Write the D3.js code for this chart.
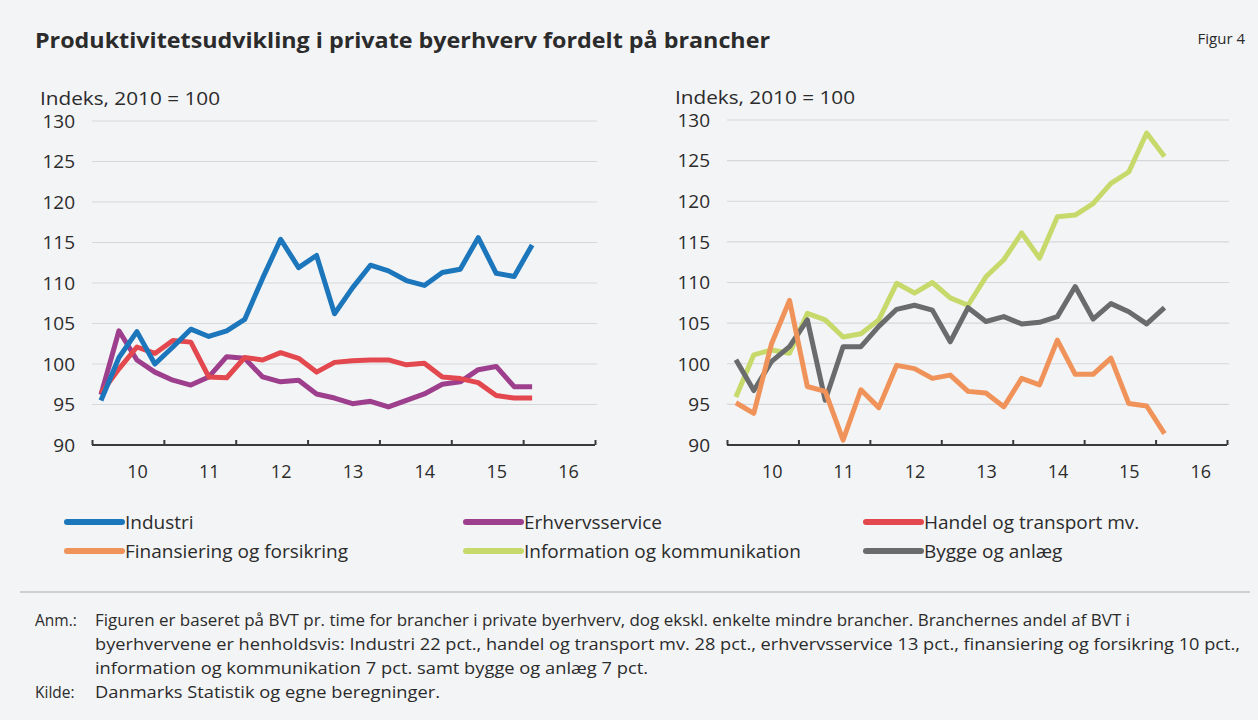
<!DOCTYPE html>
<html>
<head>
<meta charset="utf-8">
<script src="https://cdn.jsdelivr.net/npm/d3@7"></script>
<style>
  html, body { margin: 0; padding: 0; background: #f3f4f6; }
  svg { display: block; }
  text { font-family: "Open Sans", "DejaVu Sans", sans-serif; fill: #2b2b2b; }
</style>
</head>
<body>
<svg id="chart" width="1258" height="720"></svg>
<script>
// ---------- DATA ----------
const quarters = ["2010K1","2010K2","2010K3","2010K4","2011K1","2011K2","2011K3","2011K4",
  "2012K1","2012K2","2012K3","2012K4","2013K1","2013K2","2013K3","2013K4",
  "2014K1","2014K2","2014K3","2014K4","2015K1","2015K2","2015K3","2015K4","2016K1"];

const industri = [95.5,100.8,104.0,100.0,102.1,104.3,103.4,104.1,105.5,110.6,115.4,111.9,113.4,
  106.2,109.4,112.2,111.5,110.3,109.7,111.3,111.7,115.6,111.2,110.8,114.7];
const erhvervsservice = [96.2,104.1,100.5,99.0,98.0,97.4,98.4,100.9,100.7,98.4,97.8,98.0,96.3,
  95.8,95.1,95.4,94.7,95.5,96.3,97.5,97.8,99.3,99.7,97.2,97.2];
const handel = [96.4,99.4,102.1,101.3,102.9,102.7,98.4,98.3,100.8,100.5,101.4,100.7,99.0,
  100.2,100.4,100.5,100.5,99.9,100.1,98.4,98.2,97.7,96.1,95.8,95.8];

const finansiering = [95.2,93.9,102.5,107.8,97.2,96.6,90.6,96.8,94.6,99.8,99.4,98.2,98.6,
  96.6,96.4,94.7,98.2,97.4,102.9,98.7,98.7,100.7,95.1,94.8,91.4];
const information = [95.9,101.1,101.7,101.3,106.2,105.4,103.3,103.7,105.4,109.9,108.7,110.0,108.1,
  107.2,110.7,112.8,116.1,113.0,118.1,118.3,119.7,122.2,123.6,128.4,125.5];
const bygge = [100.5,96.7,100.3,102.1,105.4,95.5,102.1,102.1,104.6,106.7,107.2,106.6,102.7,
  106.9,105.2,105.8,104.9,105.1,105.8,109.5,105.5,107.4,106.4,104.9,106.9];

const yTicks = [90,95,100,105,110,115,120,125,130];
const xYears = [2010,2011,2012,2013,2014,2015,2016];
const xTickLabels = ["10","11","12","13","14","15","16"];

const seriesNames = ["Industri","Erhvervsservice","Handel og transport mv.",
  "Finansiering og forsikring","Information og kommunikation","Bygge og anlæg"];
const seriesColors = ["#1c76bb","#9d3f8d","#e2484e","#f0935a","#c8d96c","#6a6b6d"];

const title = "Produktivitetsudvikling i private byerhverv fordelt på brancher";
const figLabel = "Figur 4";
const yUnit = "Indeks, 2010 = 100";
const noteLines = [
  "Figuren er baseret på BVT pr. time for brancher i private byerhverv, dog ekskl. enkelte mindre brancher. Branchernes andel af BVT i",
  "byerhvervene er henholdsvis: Industri 22 pct., handel og transport mv. 28 pct., erhvervsservice 13 pct., finansiering og forsikring 10 pct.,",
  "information og kommunikation 7 pct. samt bygge og anlæg 7 pct."
];
const sourceText = "Danmarks Statistik og egne beregninger.";

// ---------- DRAW ----------
const svg = d3.select("#chart");

svg.append("text").attr("x", 35).attr("y", 48)
  .attr("font-size", 21).attr("font-weight", 700).attr("fill", "#2e2e2e")
  .attr("textLength", 735).attr("lengthAdjust", "spacingAndGlyphs")
  .text(title);
svg.append("text").attr("x", 1245).attr("y", 44).attr("text-anchor", "end")
  .attr("font-size", 15).text(figLabel);

const tq = i => 2010 + (i + 0.5) / 4;

function panel(x0, x1, yTop, yBot, series, order) {
  const x = d3.scaleLinear().domain([2010, 2017]).range([x0, x1]);
  const y = d3.scaleLinear().domain([90, 130]).range([yBot, yTop]);
  const g = svg.append("g");

  // gridlines
  g.selectAll(".grid").data(yTicks.filter(v => v > 90)).enter().append("line")
    .attr("x1", x0).attr("x2", x1 + 2)
    .attr("y1", d => y(d)).attr("y2", d => y(d))
    .attr("stroke", "#d6d7d9").attr("stroke-width", 1.2);

  // y labels
  g.selectAll(".ylab").data(yTicks).enter().append("text")
    .attr("x", x0 - 17).attr("y", d => y(d)).attr("dy", "0.36em")
    .attr("text-anchor", "end").attr("font-size", 19).text(d => d);

  g.append("text").attr("x", x0 - 52).attr("y", yTop - 16)
    .attr("font-size", 17.5).attr("textLength", 180).attr("lengthAdjust", "spacingAndGlyphs")
    .text(yUnit);

  // x axis
  const ax = d3.axisTop(x).tickValues(d3.range(2010, 2018)).tickSize(5).tickFormat("");
  const axG = g.append("g").attr("transform", `translate(0,${yBot})`).call(ax);
  axG.select(".domain").attr("stroke", "#3a3a3a").attr("stroke-width", 2)
    .attr("d", `M${x0},0H${x1}`);
  axG.selectAll(".tick line").attr("stroke", "#3a3a3a").attr("stroke-width", 2);

  g.selectAll(".xlab").data(xYears).enter().append("text")
    .attr("x", (d) => x(d + 0.5) + 9.5).attr("y", yBot + 33)
    .attr("text-anchor", "middle").attr("font-size", 18)
    .text((d, i) => xTickLabels[i]);

  const line = d3.line().x((d, i) => x(tq(i))).y(d => y(d));
  order.forEach(k => {
    g.append("path").datum(series[k].values)
      .attr("d", line).attr("fill", "none")
      .attr("stroke", series[k].color).attr("stroke-width", 5)
      .attr("stroke-linejoin", "round").attr("stroke-linecap", "butt");
  });
}

const leftSeries = [
  {values: industri, color: seriesColors[0]},
  {values: erhvervsservice, color: seriesColors[1]},
  {values: handel, color: seriesColors[2]}
];
const rightSeries = [
  {values: finansiering, color: seriesColors[3]},
  {values: information, color: seriesColors[4]},
  {values: bygge, color: seriesColors[5]}
];
panel(92, 595, 121, 445, leftSeries, [1, 2, 0]);
panel(727, 1227, 120, 445, rightSeries, [1, 2, 0]);

// legend
const legX = [67, 466, 866];
const legY = [522, 551];
seriesNames.forEach((name, i) => {
  const cx = legX[i % 3], cy = legY[Math.floor(i / 3)];
  svg.append("line").attr("x1", cx).attr("x2", cx + 55).attr("y1", cy).attr("y2", cy)
    .attr("stroke", seriesColors[i]).attr("stroke-width", 6).attr("stroke-linecap", "round");
  svg.append("text").attr("x", cx + 58).attr("y", cy).attr("dy", "0.35em")
    .attr("font-size", 19).text(name);
});

// separator
svg.append("line").attr("x1", 20).attr("x2", 1250).attr("y1", 592).attr("y2", 592)
  .attr("stroke", "#a9aaac").attr("stroke-width", 1.2);

// notes
const noteWidths = [1035, 1145, 553];
svg.append("text").attr("x", 35).attr("y", 626).attr("font-size", 15.5).text("Anm.:");
noteLines.forEach((t, i) => {
  svg.append("text").attr("x", 95).attr("y", 626 + i * 24).attr("font-size", 15.5)
    .attr("textLength", noteWidths[i]).attr("lengthAdjust", "spacingAndGlyphs").text(t);
});
svg.append("text").attr("x", 35).attr("y", 698).attr("font-size", 15.5).text("Kilde:");
svg.append("text").attr("x", 95).attr("y", 698).attr("font-size", 15.5)
  .attr("textLength", 345).attr("lengthAdjust", "spacingAndGlyphs").text(sourceText);
</script>
</body>
</html>
